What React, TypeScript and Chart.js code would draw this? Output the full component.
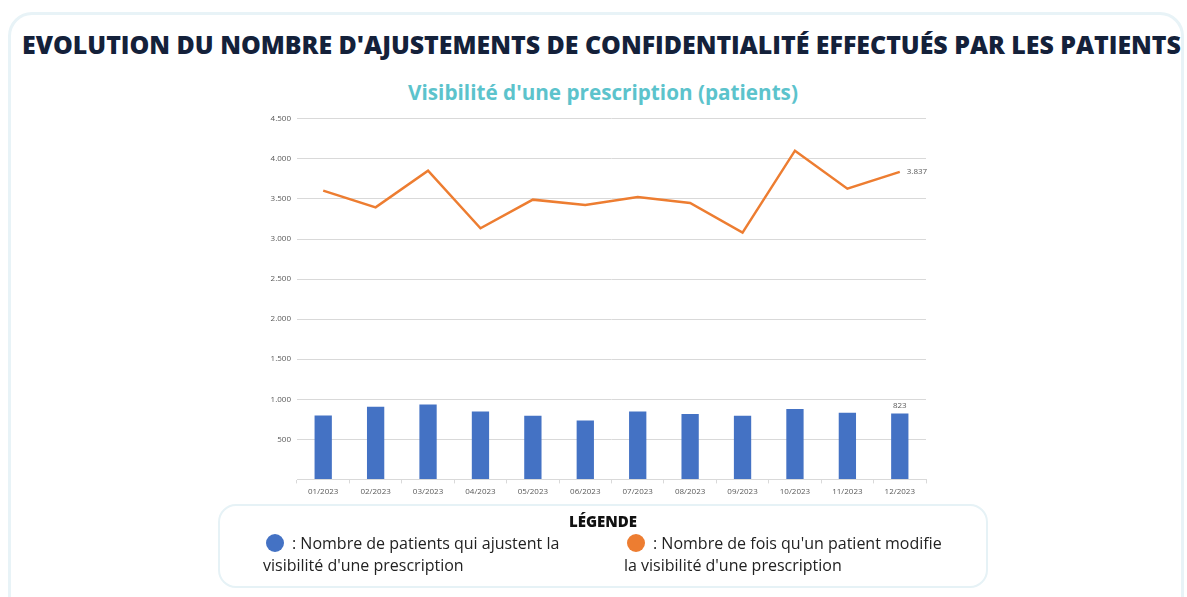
import React, { useEffect, useRef } from 'react';
import { Chart, registerables } from 'chart.js';
Chart.register(...registerables);

const months = ['01/2023', '02/2023', '03/2023', '04/2023', '05/2023', '06/2023', '07/2023', '08/2023', '09/2023', '10/2023', '11/2023', '12/2023'];
const patients = [798, 906, 935, 848, 794, 736, 848, 815, 794, 877, 831, 823];
const modifications = [3603, 3395, 3853, 3134, 3491, 3425, 3525, 3450, 3080, 4102, 3628, 3837];
const yMax = 4500;
const yStep = 500;

const TITLE = "EVOLUTION DU NOMBRE D'AJUSTEMENTS DE CONFIDENTIALITÉ EFFECTUÉS PAR LES PATIENTS";
const SUBTITLE = "Visibilité d'une prescription (patients)";
const LEGEND_TITLE = 'LÉGENDE';
const LEGEND_BLUE = ": Nombre de patients qui ajustent la";
const LEGEND_BLUE_2 = "visibilité d'une prescription";
const LEGEND_ORANGE = ": Nombre de fois qu'un patient modifie";
const LEGEND_ORANGE_2 = "la visibilité d'une prescription";

const BLUE = '#4472c4';
const ORANGE = '#ed7d31';

const fmt = (v: number) => String(v).replace(/\B(?=(\d{3})+(?!\d))/g, '.');

const lastLabels = {
  id: 'lastLabels',
  afterDatasetsDraw(chart: any) {
    const ctx = chart.ctx;
    ctx.save();
    ctx.font = '8px "Open Sans"';
    ctx.fillStyle = '#595959';
    const barMeta = chart.getDatasetMeta(0);
    const lineMeta = chart.getDatasetMeta(1);
    const bi = patients.length - 1;
    const bEl = barMeta.data[bi];
    ctx.textAlign = 'center';
    ctx.textBaseline = 'bottom';
    ctx.fillText(fmt(patients[bi]), bEl.x, bEl.y - 4);
    const li = modifications.length - 1;
    const lEl = lineMeta.data[li];
    ctx.textAlign = 'left';
    ctx.textBaseline = 'middle';
    ctx.fillText(fmt(modifications[li]), lEl.x + 7, lEl.y);
    ctx.restore();
  },
};

function ChartBox() {
  const ref = useRef<HTMLCanvasElement | null>(null);
  useEffect(() => {
    if (!ref.current) return;
    const chart = new Chart(ref.current, {
      type: 'bar',
      data: {
        labels: months,
        datasets: [
          {
            type: 'bar',
            label: 'Nombre de patients',
            data: patients,
            backgroundColor: BLUE,
            barPercentage: 0.33,
            categoryPercentage: 1,
            order: 2,
          },
          {
            type: 'line',
            label: 'Nombre de modifications',
            data: modifications,
            borderColor: ORANGE,
            borderWidth: 2.5,
            pointRadius: 0,
            tension: 0,
            order: 1,
          } as any,
        ],
      },
      options: {
        animation: false,
        responsive: false,
        maintainAspectRatio: false,
        layout: { padding: { top: 10, right: 14, left: 0, bottom: 7 } },
        plugins: {
          legend: { display: false },
          tooltip: { enabled: false },
        },
        scales: {
          x: {
            offset: true,
            grid: { display: true, drawOnChartArea: false, drawTicks: true, tickLength: 4, color: '#d9d9d9', offset: true },
            border: { display: true, color: '#d9d9d9' },
            ticks: { color: '#595959', font: { family: '"Open Sans"', size: 8 }, padding: 4, maxRotation: 0 },
          },
          y: {
            min: 0,
            max: yMax,
            grid: { color: '#d9d9d9', drawTicks: false },
            border: { display: false },
            ticks: {
              stepSize: yStep,
              color: '#595959',
              font: { family: '"Open Sans"', size: 8 },
              padding: 6,
              callback: (v: any) => (v === 0 ? '' : fmt(v)),
            },
            afterFit: (s: any) => { s.width = 47; },
          },
        },
      },
      plugins: [lastLabels],
    });
    return () => chart.destroy();
  }, []);
  return <canvas ref={ref} width={690} height={400} style={{ position: 'absolute', left: 250, top: 108, width: 690, height: 400 }} />;
}

export default function App() {
  const font = '"Open Sans", "Noto Sans", sans-serif';
  return (
    <div style={{ position: 'fixed', left: 0, top: 0, width: 1187, height: 597, background: '#fff', overflow: 'hidden', fontFamily: font }}>
      <div style={{ position: 'absolute', left: 8, top: 12, width: 1176, height: 620, border: '3px solid #e8f3f7', borderRadius: 24, boxSizing: 'border-box' }} />
      <div style={{ position: 'absolute', left: 0, top: 27, width: 1203, textAlign: 'center', fontSize: 24.9, fontWeight: 800, color: '#14213a', whiteSpace: 'nowrap' }}>{TITLE}</div>
      <div style={{ position: 'absolute', left: 0, top: 78, width: 1206, textAlign: 'center', fontSize: 20.7, fontWeight: 700, color: '#5cc3cc', whiteSpace: 'nowrap' }}>{SUBTITLE}</div>
      <ChartBox />
      <div style={{ position: 'absolute', left: 218, top: 504, width: 770, height: 84, border: '2px solid #e6f2f6', borderRadius: 18, boxSizing: 'border-box' }} />
      <div style={{ position: 'absolute', left: 0, top: 511, width: 1206, textAlign: 'center', fontSize: 15, fontWeight: 800, color: '#111' }}>{LEGEND_TITLE}</div>
      <div style={{ position: 'absolute', left: 263, top: 532, fontSize: 16, color: '#222', lineHeight: '22px', whiteSpace: 'nowrap' }}>
        <div><span style={{ display: 'inline-block', width: 18, height: 18, borderRadius: 9, background: BLUE, verticalAlign: -3, marginLeft: 3, marginRight: 8 }} />{LEGEND_BLUE}</div>
        <div>{LEGEND_BLUE_2}</div>
      </div>
      <div style={{ position: 'absolute', left: 624, top: 532, fontSize: 16, color: '#222', lineHeight: '22px', whiteSpace: 'nowrap' }}>
        <div><span style={{ display: 'inline-block', width: 18, height: 18, borderRadius: 9, background: ORANGE, verticalAlign: -3, marginLeft: 3, marginRight: 8 }} />{LEGEND_ORANGE}</div>
        <div>{LEGEND_ORANGE_2}</div>
      </div>
    </div>
  );
}
